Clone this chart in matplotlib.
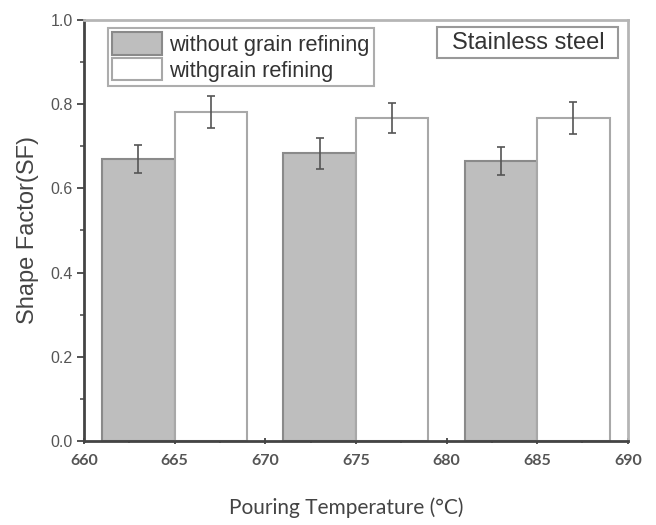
import matplotlib
matplotlib.use('Agg')
import matplotlib.pyplot as plt
from matplotlib.patches import Rectangle
from matplotlib.ticker import MultipleLocator, FormatStrFormatter

# Data
temps = [663, 673, 683]
without_sf = [0.67, 0.683, 0.665]
without_err = [0.034, 0.036, 0.034]
with_sf = [0.782, 0.767, 0.767]
with_err = [0.038, 0.036, 0.038]

bar_w = 4

plt.rcParams['font.family'] = 'Liberation Sans'

fig = plt.figure(figsize=(6.56, 5.25), dpi=100)
ax = fig.add_axes([0.128, 0.16, 0.829, 0.802])

ax.bar(temps, without_sf, width=bar_w, color='#bebebe', edgecolor='#8a8a8a',
       linewidth=1.5, label='without grain refining', zorder=2)
ax.bar([t + bar_w for t in temps], with_sf, width=bar_w, color='white',
       edgecolor='#a8a8a8', linewidth=1.5, label='withgrain refining', zorder=2)
ax.errorbar(temps, without_sf, yerr=without_err, fmt='none', ecolor='#555555',
            elinewidth=1.2, capsize=3, capthick=1.2, zorder=3)
ax.errorbar([t + bar_w for t in temps], with_sf, yerr=with_err, fmt='none',
            ecolor='#555555', elinewidth=1.2, capsize=3, capthick=1.2, zorder=3)

ax.set_xlim(660, 690)
ax.set_ylim(0, 1.0)
ax.xaxis.set_major_locator(MultipleLocator(5))
ax.xaxis.set_minor_locator(MultipleLocator(2.5))
ax.yaxis.set_major_locator(MultipleLocator(0.2))
ax.yaxis.set_minor_locator(MultipleLocator(0.1))
ax.yaxis.set_major_formatter(FormatStrFormatter('%.1f'))

ax.tick_params(axis='both', which='major', length=5, width=1.3, color='#444444',
               labelsize=11.5, labelcolor='#555555')
ax.tick_params(axis='both', which='minor', length=3, width=1.1, color='#444444')
ax.tick_params(axis='x', which='both', direction='inout', pad=7)
ax.tick_params(axis='y', which='both', direction='out', pad=3)
for lab in ax.get_xticklabels():
    lab.set_family('Lato')
    lab.set_fontweight('bold')

for s in ['left', 'bottom']:
    ax.spines[s].set_color('#444444')
    ax.spines[s].set_linewidth(2)
for s in ['top', 'right']:
    ax.spines[s].set_color('#b5b5b5')
    ax.spines[s].set_linewidth(2)

ax.set_ylabel('Shape Factor(SF)', fontsize=17, color='#444444')
ax.yaxis.set_label_coords(-0.082, 0.5)
ax.set_xlabel('Pouring Temperature (°C)', fontsize=15, color='#444444',
              family='Lato')
ax.xaxis.set_label_coords(0.482, -0.133)

leg = ax.legend(loc='upper left', bbox_to_anchor=(0.044, 0.981), fontsize=15.7,
                frameon=True, fancybox=False, handlelength=2.3, handleheight=1.2,
                handletextpad=0.3, borderpad=0.2, labelspacing=0.1,
                borderaxespad=0)
leg.get_frame().set_edgecolor('#999999')
leg.get_frame().set_linewidth(1.5)
for t in leg.get_texts():
    t.set_color('#333333')

# "Stainless steel" label box
ax.add_patch(Rectangle((0.649, 0.910), 0.333, 0.073, transform=ax.transAxes,
                       facecolor='white', edgecolor='#999999', linewidth=1.5,
                       zorder=4))
ax.text(0.817, 0.946, 'Stainless steel', transform=ax.transAxes, fontsize=17,
        color='#333333', va='center', ha='center', zorder=5)

fig.savefig('out.png', dpi=100)
